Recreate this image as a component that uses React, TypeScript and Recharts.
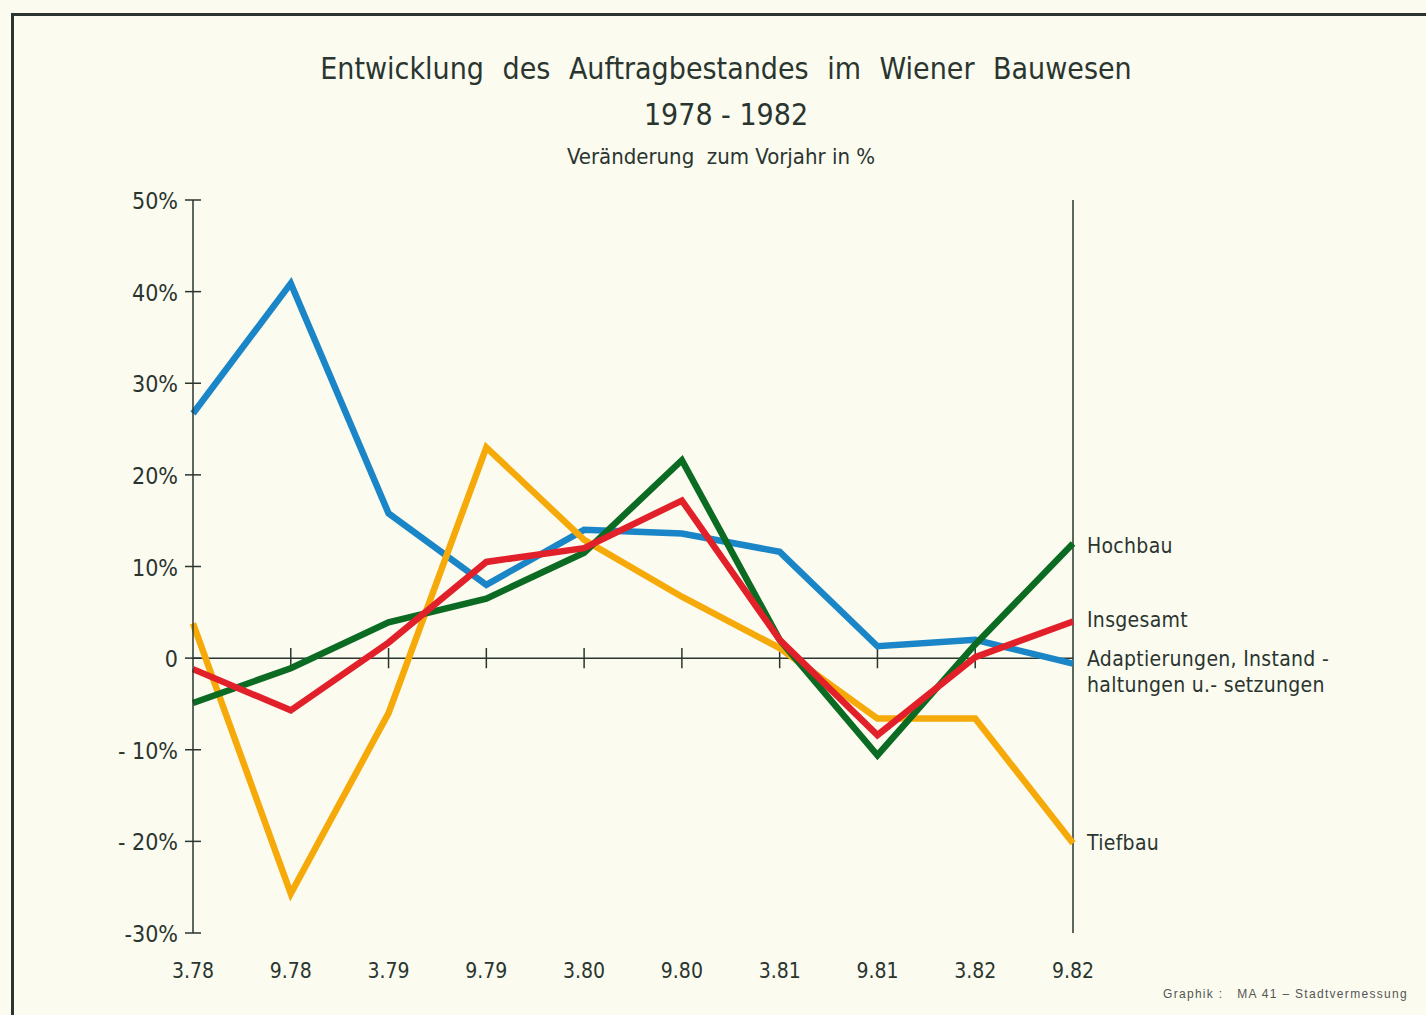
import React from "react";
import { LineChart, Line, XAxis, YAxis, ReferenceLine } from "recharts";

const periods = ["3.78", "9.78", "3.79", "9.79", "3.80", "9.80", "3.81", "9.81", "3.82", "9.82"];
const adaptierungen = [26.7, 40.9, 15.8, 8, 14, 13.6, 11.6, 1.3, 2, -0.6];
const tiefbau = [3.8, -25.7, -6, 23, 12.9, 6.7, 1.1, -6.6, -6.6, -20.2];
const hochbau = [-4.9, -1.1, 3.9, 6.5, 11.5, 21.6, 2, -10.6, 1.5, 12.5];
const insgesamt = [-1.2, -5.7, 1.7, 10.5, 12, 17.2, 2, -8.4, 0.1, 4];
const yTicks = [50, 40, 30, 20, 10, 0, -10, -20, -30];
const yTickLabels = ["50%", "40%", "30%", "20%", "10%", "0", "- 10%", "- 20%", "-30%"];

const data = periods.map((p, i) => ({
  p,
  adaptierungen: adaptierungen[i],
  tiefbau: tiefbau[i],
  hochbau: hochbau[i],
  insgesamt: insgesamt[i],
}));

const INK = "#2a3530";
const FONT = "'DejaVu Sans Condensed', 'DejaVu Sans', sans-serif";

const YTick = (props: any) => {
  const { x, y, payload } = props;
  const idx = yTicks.indexOf(payload.value);
  return (
    <g>
      <line x1={x - 8} x2={x + 8} y1={y} y2={y} stroke={INK} strokeWidth={1.5} />
      <text x={x - 15} y={y + 1} textAnchor="end" dominantBaseline="central" fontSize={23} fill={INK} fontFamily={FONT}>
        {yTickLabels[idx]}
      </text>
    </g>
  );
};

const XTick = (props: any) => {
  const { x, y, payload } = props;
  return (
    <text x={x} y={y + 36} textAnchor="middle" dominantBaseline="central" fontSize={21} fill={INK} fontFamily={FONT}>
      {payload.value}
    </text>
  );
};

const endLabel = (lines: string[], offsets: number[]) => (props: any) => {
  const { x, y, index } = props;
  if (index !== periods.length - 1) return null;
  return (
    <g>
      {lines.map((t, i) => (
        <text key={i} x={x + 14} y={y + offsets[i]} dominantBaseline="central" fontSize={21} letterSpacing={0.3} fill={INK} fontFamily={FONT}>
          {t}
        </text>
      ))}
    </g>
  );
};

export default function App() {
  return (
    <div style={{ position: "absolute", left: 0, top: 0, width: 1426, height: 1015, background: "#fbfbef", overflow: "hidden", fontFamily: FONT, color: INK }}>
      <div style={{ position: "absolute", left: 11, top: 13, width: 1500, height: 1100, borderTop: `3px solid ${INK}`, borderLeft: `3px solid ${INK}` }} />
      <div style={{ position: "absolute", left: 0, width: 1452, top: 51, textAlign: "center", fontSize: 30, wordSpacing: 10 }}>
        Entwicklung des Auftragbestandes im Wiener Bauwesen
      </div>
      <div style={{ position: "absolute", left: 0, width: 1452, top: 97, textAlign: "center", fontSize: 30 }}>
        1978 - 1982
      </div>
      <div style={{ position: "absolute", left: 0, width: 1442, top: 144, textAlign: "center", fontSize: 22 }}>
        Veränderung&nbsp; zum Vorjahr in %
      </div>
      <div style={{ position: "absolute", left: 1163, top: 987, fontSize: 12, letterSpacing: 1.3, color: "#555", fontFamily: "'Liberation Sans', sans-serif" }}>
        Graphik :&nbsp;&nbsp; MA 41 – Stadtvermessung
      </div>
      <div style={{ position: "absolute", left: 0, top: 0 }}>
        <LineChart width={1426} height={1015} data={data} margin={{ top: 200, right: 353, bottom: 0, left: 0 }}>
          <XAxis dataKey="p" height={82} axisLine={false} tickLine={false} tickSize={0} tick={<XTick />} interval={0} />
          <YAxis
            domain={[-30, 50]}
            ticks={yTicks}
            width={193}
            axisLine={{ stroke: INK, strokeWidth: 1.5 }}
            tickLine={false}
            tickSize={0}
            tickMargin={0}
            tick={<YTick />}
            interval={0}
          />
          <ReferenceLine y={0} stroke={INK} strokeWidth={1.5} />
          {periods.slice(1, -1).map((p) => (
            <ReferenceLine key={p} segment={[{ x: p, y: -1.1 }, { x: p, y: 1.1 }]} stroke={INK} strokeWidth={1.5} />
          ))}
          <ReferenceLine x="9.82" stroke={INK} strokeWidth={1.5} />
          <Line dataKey="adaptierungen" stroke="#1a86c8" strokeWidth={6.5} dot={false} isAnimationActive={false} strokeLinejoin="miter"
            label={endLabel(["Adaptierungen, Instand -", "haltungen u.- setzungen"], [-5, 21])} />
          <Line dataKey="tiefbau" stroke="#f6aa0a" strokeWidth={6.5} dot={false} isAnimationActive={false} strokeLinejoin="miter"
            label={endLabel(["Tiefbau"], [0])} />
          <Line dataKey="hochbau" stroke="#0b6b22" strokeWidth={6.5} dot={false} isAnimationActive={false} strokeLinejoin="miter"
            label={endLabel(["Hochbau"], [2])} />
          <Line dataKey="insgesamt" stroke="#e2202a" strokeWidth={6.5} dot={false} isAnimationActive={false} strokeLinejoin="miter"
            label={endLabel(["Insgesamt"], [-1])} />
        </LineChart>
      </div>
    </div>
  );
}
